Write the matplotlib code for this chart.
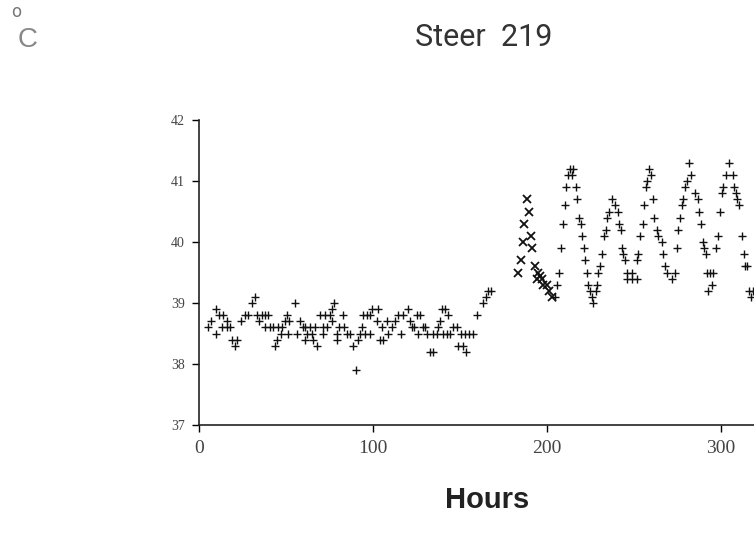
import matplotlib
matplotlib.use("Agg")
import matplotlib.pyplot as plt

# baseline period, plotted with +
hours_a = [5.4, 6.7, 9.6, 9.8, 11.7, 13.0, 13.6, 15.9, 16.3, 17.8, 18.8, 20.7, 21.7,
           24.0, 26.4, 28.3, 30.3, 32.2, 33.1, 34.7, 36.0, 37.9, 37.9, 39.8, 40.8,
           42.7, 43.7, 45.0, 45.6, 46.9, 47.5, 49.4, 50.4, 51.3, 51.9, 55.2, 56.1,
           58.0, 59.6, 60.9, 60.9, 62.2, 63.8, 64.8, 65.7, 66.7, 67.6, 69.5, 71.1,
           71.5, 72.4, 73.4, 75.3, 76.3, 76.3, 77.6, 79.1, 79.1, 80.6, 82.9, 83.3,
           84.9, 86.8, 88.7, 90.2, 91.6, 92.5, 93.5, 94.4, 95.4, 96.4, 98.3, 98.3,
           99.3, 102.1, 103.0, 104.0, 105.0, 105.9, 107.9, 108.8, 110.7, 112.6,
           114.5, 115.9, 117.4, 120.3, 121.3, 122.2, 123.6, 125.1, 126.1, 127.0,
           128.6, 129.9, 130.9, 132.8, 134.3, 134.7, 136.6, 137.5, 138.5, 139.5,
           140.4, 141.4, 142.7, 143.3, 144.3, 146.2, 148.1, 149.0, 150.4, 151.9,
           152.9, 153.4, 155.4, 157.6, 159.9, 163.0, 164.9, 166.3, 167.8]
temp_a = [38.6, 38.7, 38.5, 38.9, 38.8, 38.6, 38.8, 38.7, 38.6, 38.6, 38.4, 38.3, 38.4,
          38.7, 38.8, 38.8, 39.0, 39.1, 38.8, 38.7, 38.8, 38.8, 38.6, 38.8, 38.6,
          38.6, 38.3, 38.4, 38.6, 38.5, 38.6, 38.7, 38.8, 38.5, 38.7, 39.0, 38.5,
          38.7, 38.6, 38.6, 38.4, 38.5, 38.6, 38.5, 38.4, 38.6, 38.3, 38.8, 38.5,
          38.6, 38.8, 38.6, 38.8, 38.9, 38.7, 39.0, 38.5, 38.4, 38.6, 38.8, 38.6,
          38.5, 38.5, 38.3, 37.9, 38.4, 38.5, 38.6, 38.8, 38.5, 38.8, 38.8, 38.5,
          38.9, 38.7, 38.9, 38.4, 38.6, 38.4, 38.7, 38.5, 38.6, 38.7,
          38.8, 38.5, 38.8, 38.9, 38.7, 38.6, 38.6, 38.8, 38.5, 38.8,
          38.6, 38.6, 38.5, 38.2, 38.5, 38.2, 38.5, 38.6, 38.7, 38.9,
          38.5, 38.9, 38.5, 38.8, 38.5, 38.6, 38.6, 38.3, 38.5, 38.3,
          38.5, 38.2, 38.5, 38.5, 38.8, 39.0, 39.1, 39.2, 39.2]

# short run plotted with x
hours_b = [183.5, 184.9, 186.0, 186.9, 188.3, 189.8, 190.8, 191.6, 193.1, 194.1,
           195.0, 196.0, 197.0, 197.9, 199.8, 201.3, 202.7]
temp_b = [39.5, 39.7, 40.0, 40.3, 40.7, 40.5, 40.1, 39.9, 39.6, 39.4,
          39.5, 39.45, 39.4, 39.3, 39.3, 39.2, 39.1]

# cycling period, plotted with +
hours_c = [204.6, 205.9, 207.1, 207.9, 209.0, 210.3, 210.9, 212.2, 213.2, 214.2,
           215.1, 216.7, 217.4, 218.6, 219.4, 219.9, 221.3, 221.8, 222.8, 223.7,
           224.7, 225.7, 226.6, 228.0, 228.6, 229.5, 230.5, 231.4, 232.8, 233.9,
           234.7, 235.8, 237.2, 239.1, 241.0, 241.6, 242.4, 243.0, 243.9, 244.8,
           245.8, 245.8, 248.7, 248.7, 251.5, 251.5, 252.5, 253.4, 255.0, 255.7,
           256.9, 257.6, 258.8, 259.6, 260.7, 261.5, 263.4, 264.0, 265.9, 266.9,
           267.8, 268.8, 271.7, 273.6, 274.5, 275.5, 276.4, 277.4, 278.3, 279.3,
           280.6, 281.8, 282.6, 285.0, 287.0, 287.5, 288.3, 289.5, 290.2, 291.4,
           292.1, 292.7, 293.7, 294.7, 295.2, 297.4, 298.4, 299.4, 300.4, 301.3,
           302.9, 304.8, 307.1, 307.5, 308.6, 309.4, 310.5, 311.9, 313.2, 313.8,
           314.8, 316.3, 317.1, 318.2]
temp_c = [39.1, 39.3, 39.5, 39.9, 40.3, 40.6, 40.9, 41.1, 41.2, 41.1,
          41.2, 40.9, 40.7, 40.4, 40.3, 40.1, 39.9, 39.7, 39.5, 39.3,
          39.2, 39.1, 39.0, 39.2, 39.3, 39.5, 39.6, 39.8, 40.1, 40.2,
          40.4, 40.5, 40.7, 40.6, 40.5, 40.3, 40.2, 39.9, 39.8, 39.7,
          39.5, 39.4, 39.5, 39.4, 39.4, 39.7, 39.8, 40.1, 40.3, 40.6,
          40.9, 41.0, 41.2, 41.1, 40.7, 40.4, 40.2, 40.1, 40.0, 39.8,
          39.6, 39.5, 39.4, 39.5, 39.9, 40.2, 40.4, 40.6, 40.7, 40.9,
          41.0, 41.3, 41.1, 40.8, 40.7, 40.5, 40.3, 40.0, 39.9, 39.8,
          39.5, 39.2, 39.5, 39.3, 39.5, 39.9, 40.1, 40.5, 40.8, 40.9,
          41.1, 41.3, 41.1, 40.9, 40.8, 40.7, 40.6, 40.1, 39.8, 39.6,
          39.6, 39.2, 39.1, 39.2]

x_ticks = [0, 100, 200, 300]
y_ticks = [37, 38, 39, 40, 41, 42]

fig = plt.figure(figsize=(7.54, 5.41), dpi=100)
ax = fig.add_axes([199 / 754, 116 / 541, 555 / 754, 305 / 541])

ax.plot(hours_a, temp_a, ls="none", marker="+", ms=6, mew=1.0, color="#111111")
ax.plot(hours_b, temp_b, ls="none", marker="x", ms=5.5, mew=1.3, color="#111111")
ax.plot(hours_c, temp_c, ls="none", marker="+", ms=6, mew=1.0, color="#111111")

ax.set_xlim(0, 319)
ax.set_ylim(37, 42)
ax.set_xticks(x_ticks)
ax.set_yticks(y_ticks)
ax.set_xticklabels([str(t) for t in x_ticks], fontsize=14, family="Liberation Serif", color="#444444")
ax.set_yticklabels([str(t) for t in y_ticks], fontsize=10, family="Liberation Serif", color="#444444")
ax.tick_params(axis="x", direction="out", length=5, width=1, pad=6)
ax.tick_params(axis="y", direction="out", length=5, width=1, pad=5)

for s in ["top", "right"]:
    ax.spines[s].set_visible(False)
for s in ["left", "bottom"]:
    ax.spines[s].set_linewidth(1.2)
    ax.spines[s].set_color("#222222")

fig.text(484 / 754, 1 - 38 / 541, "Steer  219", ha="center", va="center",
         fontsize=22, family="Roboto", color="#333333")
fig.text(16 / 754, 1 - 12 / 541, "o", ha="center", va="center", fontsize=12, color="#777777")
fig.text(28 / 754, 1 - 40 / 541, "C", ha="center", va="center", fontsize=20,
         family="Liberation Sans", color="#888888")
fig.text(487 / 754, 1 - 500 / 541, "Hours", ha="center", va="center", fontsize=21,
         fontweight="bold", family="Liberation Sans", color="#222222")

fig.savefig("out.png", dpi=100)
